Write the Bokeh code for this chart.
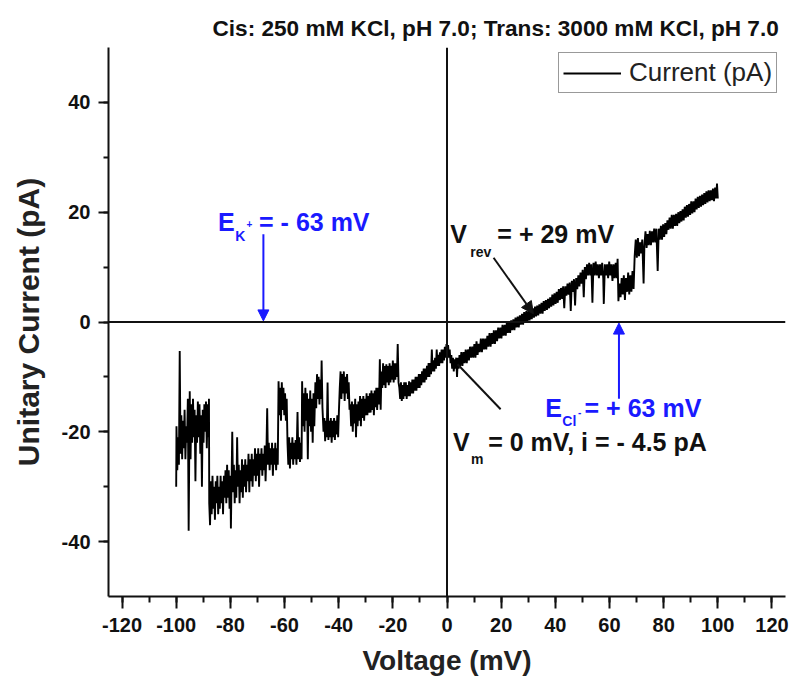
from bokeh.plotting import figure
from bokeh.models import FixedTicker, Span, Label, Arrow, NormalHead, Legend, LegendItem, Range1d
from bokeh.embed import file_html
from bokeh.resources import INLINE

# ---- data (voltage mV, current pA) ----
voltage = [
-100.0,-99.9,-99.6,-99.3,-99.0,-98.7,-98.4,-98.1,-97.8,-97.5,-97.2,-96.9,-96.6,-96.3,-96.0,-95.7,-95.4,-95.0,-94.7,-94.4,-94.1,-93.8,-93.5,-93.2,-92.9,-92.6,-92.3,-92.0,-91.7,-91.4,-91.1,-90.8,-90.5,-90.2,-89.9,-89.6,-89.3,-89.0,-88.7,-88.4,-88.1,-87.9,
-87.8,-87.5,-87.2,-86.9,-86.6,-86.3,-86.0,-85.7,-85.4,-85.1,-84.8,-84.5,-84.2,-83.9,-83.6,-83.3,-83.0,-82.7,-82.4,-82.1,-81.8,-81.5,-81.2,-80.9,-80.6,-80.3,-80.0,-79.8,-79.5,-79.3,-79.0,-78.7,-78.4,-78.1,-77.8,-77.5,-77.2,-76.9,-76.6,
-76.3,-76.0,-75.7,-75.4,-75.1,-74.8,-74.5,-74.2,-73.9,-73.6,-73.3,-73.0,-72.7,-72.4,-72.1,-71.8,-71.5,-71.2,-70.9,-70.6,-70.3,-70.0,-69.7,-69.4,-69.1,-68.8,-68.5,-68.2,-67.9,-67.6,-67.3,-67.0,-66.7,-66.4,-66.1,-65.8,-65.5,-65.2,-64.9,-64.6,-64.3,-64.0,-63.7,-63.4,-63.1,-62.8,-62.5,-62.2,
-61.9,-61.6,-61.3,-61.0,-60.7,-60.4,-60.1,-59.8,-59.5,-59.2,
-58.9,-58.6,-58.3,-58.0,-57.7,-57.4,-57.1,-56.8,-56.5,-56.2,-55.9,-55.6,-55.2,-54.9,-54.6,-54.3,-54.0,-53.7,-53.5,
-53.2,-52.9,-52.6,-52.3,-52.0,-51.7,-51.4,-51.1,-50.8,-50.5,-50.2,-49.9,-49.6,-49.3,-49.0,
-48.6,-48.3,-48.0,-47.7,-47.4,-47.1,-46.8,-46.5,-46.3,-46.0,
-45.6,-45.3,-45.0,-44.7,-44.4,-44.1,-43.8,-43.5,-43.2,-42.9,-42.6,-42.3,-42.0,-41.7,-41.4,-41.1,-40.8,-40.5,-40.2,-39.9,
-39.6,-39.3,-39.0,-38.7,-38.4,-38.1,-37.8,-37.5,-37.2,-36.9,-36.6,-36.3,-36.0,
-35.7,-35.4,-35.1,-34.8,-34.5,-34.2,-33.9,-33.6,-33.3,-33.0,-32.7,-32.4,-32.1,-31.8,-31.5,-31.2,-30.9,-30.6,-30.3,-30.0,-29.7,-29.4,-29.1,-28.8,
-28.5,-28.2,-27.9,-27.6,-27.3,-27.0,-26.7,-26.4,-26.1,-25.8,-25.5,-25.1,-24.8,-24.5,
-24.2,-23.9,-23.6,-23.3,-23.0,-22.7,-22.4,-22.1,-21.8,-21.5,-21.2,-20.9,-20.6,-20.3,-20.0,-19.7,-19.4,-19.1,-18.8,-18.5,-18.2,-17.9,
-17.6,-17.3,-17.0,-16.7,-16.4,-16.1,-15.8,-15.5,-15.2,-14.9,-14.6,-14.3,-14.0,-13.7,-13.4,-13.1,-12.8,-12.5,-12.2,-11.9,-11.6,-11.3,-11.0,-10.7,
-10.4,-10.1,-9.8,-9.5,-9.2,-8.9,-8.6,-8.3,-8.0,-7.7,-7.4,-7.1,-6.8,-6.5,-6.2,-5.9,-5.6,-5.3,-5.0,-4.7,-4.4,-4.1,-3.8,-3.5,-3.2,-2.9,-2.6,-2.3,-2.0,-1.7,-1.4,-1.1,-0.8,-0.5,
-0.2,0.1,0.4,0.7,1.0,1.3,1.6,1.9,2.2,2.5,2.8,3.1,3.4,3.7,4.0,4.3,4.6,4.9,
5.3,5.7,6.1,6.5,6.9,7.3,7.7,8.1,8.5,8.9,9.3,9.7,10.1,10.5,10.9,11.3,11.7,12.1,12.5,12.9,13.3,13.7,14.1,14.5,14.9,15.3,15.7,16.1,16.5,16.9,17.3,17.7,18.1,18.5,18.9,19.3,
19.7,20.1,20.5,20.9,21.3,21.7,22.1,22.5,22.9,23.3,23.7,24.1,24.5,24.9,25.3,25.7,26.1,26.5,26.9,27.3,27.7,28.1,28.5,28.9,29.3,29.7,30.1,30.5,30.9,31.3,31.7,32.1,32.5,32.9,33.3,33.7,34.1,34.5,34.9,35.3,35.7,36.1,36.5,36.9,37.3,37.7,38.1,38.5,38.9,39.3,39.7,40.1,40.5,40.9,41.3,41.7,42.1,42.5,42.9,43.3,43.7,44.1,44.5,44.9,45.3,45.7,46.1,46.5,46.9,47.3,47.7,48.1,48.5,48.9,49.3,49.7,50.1,50.5,50.9,51.3,51.7,52.1,52.5,
52.9,53.3,53.7,54.1,54.5,54.9,55.3,55.7,56.1,56.5,56.9,57.3,57.7,57.9,58.3,58.7,59.1,59.5,59.9,60.3,60.7,61.1,61.5,61.9,62.3,62.7,63.0,63.3,
63.7,64.1,64.5,64.9,65.3,65.7,66.1,66.5,66.9,67.3,67.7,68.1,68.5,68.9,
69.3,69.7,70.1,70.5,70.9,71.3,71.7,72.1,72.6,
72.9,73.3,73.7,74.1,74.5,74.9,75.3,75.7,76.1,76.5,76.9,77.3,77.8,78.2,78.6,79.0,79.4,79.8,80.2,80.6,81.0,81.4,
81.8,82.2,82.6,83.0,83.4,83.8,84.2,84.6,85.0,85.4,85.8,86.2,86.6,87.0,87.4,87.8,88.2,88.6,89.0,89.4,89.8,90.2,90.6,
91.0,91.4,91.8,92.2,92.6,93.0,93.4,93.8,94.2,94.6,95.0,95.4,95.8,96.2,96.6,97.0,97.4,97.8,98.2,98.6,99.0,99.4,99.7,100.0,
]
current = [
-30,-19,-27,-21,-26,-5.3,-24,-17,-25,-18,-23,-16,-25,-19,-22,-14,-38,-12.6,-25,-15,-22,-14,-21,-16,-29,-17,-22,-14.5,-21,-15,-24,-17,-30,-16,-22,-15,-20,-14.5,-23,-15,-21,-14,
-33,-37,-29,-35,-28,-34,-30,-36,-29,-33,-28,-35,-30,-34,-28,-33,-29,-35,-28,-32,-27,-33,-26,-32,-27,-34,-28,-37.6,-27,-20,-31,-26,-33,-27,-32,-21,-30,-26,-33,
-27,-31,-25,-32,-26,-30,-25,-31,-26,-29,-24,-31,-25,-29,-24,-30,-25,-28,-23,-29,-24,-28,-23,-30,-24,-27,-23,-28,-24,-27,-22.5,-29,-24,-15.7,-26,-22,-27,-23,-26,-22,-28,-23,-26,-22,-27,-23,-26,-10.8,
-17,-12,-18,-11,-16,-12,-17,-13,-18,-14,
-22,-26,-21,-26.7,-22,-25,-21,-26,-22,-25,-21.5,-26,-16.4,-25,-21,-25.5,-22,-25,-10.8,
-19,-13,-20,-12,-18,-13,-25,-14,-19,-12.5,-20,-14,-22,-13,-19,
-11,-15.7,-9.5,-14,-10,-15,-10.5,-14,-7,-15.5,
-20,-17.5,-21.7,-18,-21,-11,-21.5,-18,-21,-17.5,-22,-18,-21,-17.5,-21.5,-18,-20.5,-17,-21,-16,
-12,-9,-14,-9.5,-13,-9,-14.4,-10,-13,-9.5,-14,-11,-16,
-15,-19,-14.5,-20,-15,-18.5,-14,-21,-15,-19,-14.5,-18,-13.5,-19,-14,-17.5,-13.5,-18,-14,-17,-13,-17,-13.5,-16.5,
-13,-16.5,-12.5,-16,-13,-17,-12.5,-15.5,-12,-16,-12,-15,-6.8,-16,
-9,-12,-7.5,-11.5,-8,-12,-7.7,-11,-8,-11.5,-7.5,-11,-8,-10.5,-7,-11,-7.5,-10.5,-7.5,-10,-4,-11,
-12,-14,-11,-14.4,-11.5,-14,-11,-13.5,-11,-14,-11.5,-13.5,-10.8,-13.5,-11,-13,-10.5,-13,-10.5,-12.5,-10,-12.5,-10,-12,
-9.5,-12,-9.5,-11.5,-9,-11,-8.5,-11,-8.5,-10.5,-8,-10,-7.5,-10,-7.5,-9.5,-5,-9,-7,-9,-6.5,-8.5,-5,-8,-6,-8,-5.5,-7.5,-5,-7.5,-5,-7,-4.5,-6.5,
-4,-6.6,-4.2,-6.5,-5,-7.5,-6,-8.5,-6.5,-9,-6.8,-8.5,-6.5,-10,-6.5,-8.5,-6,-8,
-5.5,-8,-5.5,-7.5,-5,-7.5,-5,-7,-4.5,-6.5,-4.5,-6.5,-4,-6.5,-3.5,-6,-4,-5.5,-3,-5.5,-3,-5,-3,-5,-2.5,-4.5,-2,-4.5,-2,-4,-1.5,-4,-1.5,-3.5,-1,-3,
-1,-3,-0.5,-2.5,-0.5,-2.5,0,-2,0,-2,0.3,-1.5,0.5,-1.5,0.8,-1,1,-1,1.2,-0.5,1.5,-0.5,1.8,0,2,0,2,0.3,2.3,0.5,2.5,0.8,2.8,1,3,1.2,3.2,1.5,3.5,1.5,3.8,2,4,2.2,4.2,2.5,4.5,2.8,5,3,5.2,3.3,5.5,3.5,6,4,6.2,4.2,6.5,2.5,6.5,4.8,7,5,7.2,2,7.5,5.5,7.8,3,8,6,8.5,6.5,9,7,9.5,4.5,10,7.8,10.5,8.5,10.8,
8.5,10.5,3.5,10.8,8.5,11,8.5,10.5,8,10.5,8.5,10.8,8,3.3,10.5,8.5,10.5,8,11,8.5,10.5,7.5,10.5,8,10.8,8,11.5,3.8,
7,4.5,8,5,8.5,4,8,5.5,9,5,8.5,5.5,9.3,6,
12,15,11.7,15.3,12,14.5,12.5,15,7,
14,16.5,13.5,16,14,16.6,14,16.5,14.5,17,14.5,17,9.3,17,15,17.5,15,17.8,15.5,18,16,18.5,
16.8,19,17,19.5,17,19.5,17.5,19.7,17.5,20,18,20.2,18.3,20.5,18.5,21,19,21.3,19.2,21.5,19.5,22,19.8,
22,20,22.5,20.5,22.8,20.8,23,21,23.2,21.3,23.5,21.5,23.8,21.8,24,22,24,22.2,24.3,22,24.5,22.5,25.2,22.5,
]

x_major_ticks = [-120, -100, -80, -60, -40, -20, 0, 20, 40, 60, 80, 100, 120]
x_minor_ticks = [-120, -110, -100, -90, -80, -70, -60, -50, -40, -30, -20, -10, 0,
                 10, 20, 30, 40, 50, 60, 70, 80, 90, 100, 110, 120]
y_major_ticks = [-40, -20, 0, 20, 40]
y_minor_ticks = [-40, -30, -20, -10, 0, 10, 20, 30, 40]

title_text = "Cis:  250 mM KCl, pH 7.0;  Trans:  3000 mM KCl, pH 7.0"
x_label = "Voltage (mV)"
y_label = "Unitary Current (pA)"
legend_text = "Current (pA)"

FONT = "Liberation Sans"
INK = "#111111"

p = figure(width=800, height=691, output_backend="svg", toolbar_location=None,
           x_range=Range1d(-125, 125), y_range=Range1d(-50, 50),
           min_border_left=108, min_border_right=15, min_border_top=47, min_border_bottom=95)
p.outline_line_color = None
p.grid.visible = False
p.background_fill_color = "white"
p.border_fill_color = "white"

p.title.text = title_text
p.title.align = "left"
p.title.offset = 104
p.title.standoff = 10
p.title.vertical_align = "top"
p.title.text_font = FONT
p.title.text_font_size = "22.6px"
p.title.text_font_style = "bold"
p.title.text_color = INK

for ax, t, mt in ((p.xaxis[0], x_major_ticks, x_minor_ticks), (p.yaxis[0], y_major_ticks, y_minor_ticks)):
    ax.ticker = FixedTicker(ticks=t, minor_ticks=mt)
    ax.major_label_overrides = {v: str(v) for v in t}
    ax.axis_line_width = 2
    ax.axis_line_color = INK
    ax.major_tick_line_width = 2
    ax.minor_tick_line_width = 2
    ax.major_tick_line_color = INK
    ax.minor_tick_line_color = INK
    ax.major_tick_in = 0
    ax.minor_tick_in = 0
    ax.major_label_text_font = FONT
    ax.major_label_text_font_style = "bold"
    ax.major_label_text_font_size = "20px"
    ax.major_label_text_color = INK
    ax.axis_label_text_font = FONT
    ax.axis_label_text_font_style = "bold"
    ax.axis_label_text_color = "#222222"

p.xaxis.major_tick_out = 12
p.xaxis.minor_tick_out = 6
p.yaxis.major_tick_out = 10
p.yaxis.minor_tick_out = 5
p.xaxis.major_label_standoff = 9
p.yaxis.major_label_standoff = 8
p.xaxis.axis_label = x_label
p.yaxis.axis_label = y_label
p.xaxis.axis_label_text_font_size = "28px"
p.yaxis.axis_label_text_font_size = "30px"
p.xaxis.axis_label_standoff = 10
p.yaxis.axis_label_standoff = 14

p.add_layout(Span(location=0, dimension="width", line_color=INK, line_width=2))
p.add_layout(Span(location=0, dimension="height", line_color=INK, line_width=2))

trace = p.line(voltage, current, line_color="black", line_width=1.9)

legend = Legend(items=[LegendItem(label=legend_text, renderers=[trace])],
                location=(450, 503), orientation="vertical")
legend.label_text_font = FONT
legend.label_text_font_size = "26px"
legend.label_text_color = "#222222"
legend.glyph_width = 58
legend.glyph_height = 22
legend.label_height = 22
legend.label_standoff = 8
legend.padding = 4
legend.margin = 0
legend.spacing = 0
legend.border_line_color = "#333333"
legend.border_line_width = 1.5
legend.background_fill_alpha = 1
p.add_layout(legend, "center")

BLUE = "#1a1aff"
BIG = "25px"
SUB = "14px"

def lab(x, y, text, color, size, style="bold"):
    p.add_layout(Label(x=x, y=y, text=text, text_color=color, text_font=FONT,
                       text_font_size=size, text_font_style=style,
                       text_baseline="middle", text_align="left"))

# E_K+ = - 63 mV
lab(-84.6, 18.2, "E", BLUE, BIG)
lab(-78.2, 15.6, "K", BLUE, SUB)
lab(-74.0, 17.8, "+", BLUE, "10px")
lab(-69.4, 18.2, "= - 63 mV", BLUE, BIG)
p.add_layout(Arrow(x_start=-67.8, y_start=16.0, x_end=-67.8, y_end=0.2,
                   line_color=BLUE, line_width=2,
                   end=NormalHead(size=11, fill_color=BLUE, line_color=BLUE)))

# E_Cl- = + 63 mV
lab(36.3, -15.6, "E", BLUE, BIG)
lab(42.6, -18.1, "Cl", BLUE, SUB)
lab(48.4, -16.4, "-", BLUE, "10px")
lab(50.8, -15.6, "= + 63 mV", BLUE, BIG)
p.add_layout(Arrow(x_start=63.5, y_start=-14.0, x_end=63.5, y_end=-0.2,
                   line_color=BLUE, line_width=2,
                   end=NormalHead(size=11, fill_color=BLUE, line_color=BLUE)))

# V_rev = + 29 mV
lab(1.2, 16.1, "V", INK, BIG)
lab(8.6, 12.8, "rev", INK, SUB)
lab(18.6, 16.1, "= + 29 mV", INK, BIG)
p.add_layout(Arrow(x_start=17.2, y_start=11.7, x_end=31.9, y_end=1.5,
                   line_color=INK, line_width=2,
                   end=NormalHead(size=12, fill_color=INK, line_color=INK)))

# V_m = 0 mV, i = - 4.5 pA
lab(2.2, -21.8, "V", INK, BIG)
lab(8.9, -25.0, "m", INK, SUB)
lab(15.2, -21.8, "= 0 mV, i = - 4.5 pA", INK, BIG)
p.line([3.9, 19.8], [-7.7, -15.9], line_color=INK, line_width=2)

open("out.html", "w").write(file_html(p, INLINE))
